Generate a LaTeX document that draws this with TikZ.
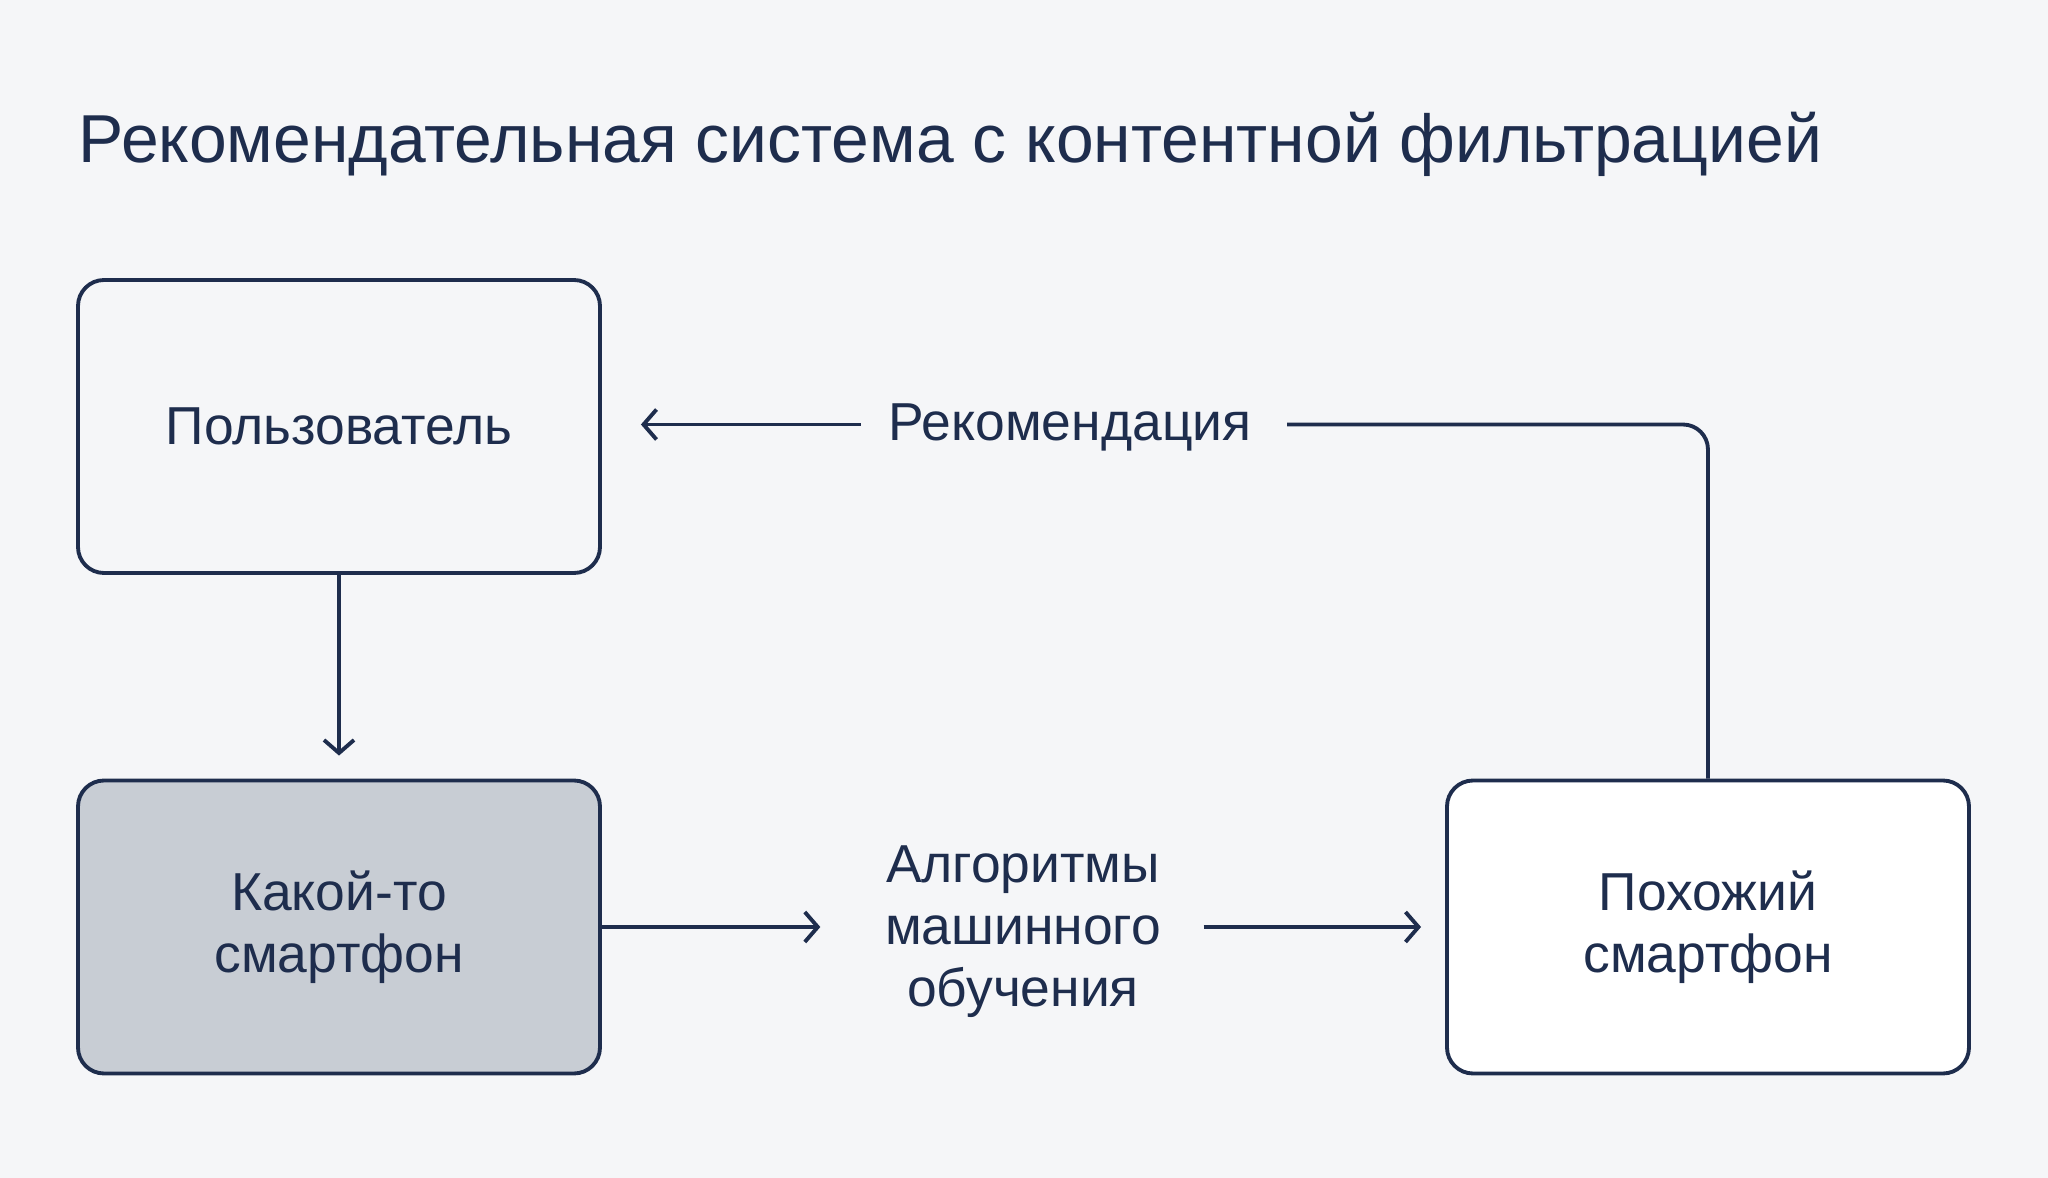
\documentclass[tikz,border=0pt]{standalone}
\usepackage{fontspec}
\setmainfont{Liberation Sans}
\usetikzlibrary{arrows.meta}
\definecolor{navy}{HTML}{1E2D4D}
\definecolor{paper}{HTML}{F5F6F8}
\definecolor{boxgray}{HTML}{C8CDD4}

\begin{document}
\begin{tikzpicture}[
    box/.style={draw=navy, line width=1.1pt, rounded corners=0.26cm, minimum width=5.22cm, minimum height=2.93cm, align=center, text=navy, font=\fontsize{15.2}{17.6}\selectfont},
    lbl/.style={inner sep=0pt, align=center, text=navy, font=\fontsize{15.2}{17.6}\selectfont},
    link/.style={draw=navy, line width=1.1pt},
    arr/.style={link, -{Straight Barb[length=0.13cm, width=0.3cm, line width=1.1pt]}}
  ]
      \fill[paper] (0,0) rectangle (20.48,-11.78);
      \useasboundingbox (0,0) rectangle (20.48,-11.78);
      \node[anchor=base west, inner sep=0pt, text=navy, font=\fontsize{19.3}{22}\selectfont] (title) at (0.78,-1.63) {Рекомендательная система с контентной фильтрацией};
      \node[box, fill=paper] (user) at (3.39,-4.265) {Пользователь};
      \node[box, fill=boxgray] (phone) at (3.39,-9.27) {Какой-то\\смартфон};
      \node[box, fill=white] (similar) at (17.08,-9.27) {Похожий\\смартфон};
      \node[lbl, text height=1.72ex, text depth=0pt] (rec) at (10.70,-4.245) {Рекомендация};
      \node[lbl] (ml) at (10.23,-9.32) {Алгоритмы\\машинного\\обучения};
      \draw[arr, shorten >=0.23cm] (user) -- (phone);
      \draw[arr, shorten >=0.64cm] (phone.east) -- (ml.west |- phone.east);
      \draw[arr, shorten <=0.42cm, shorten >=0.24cm] (ml.east |- similar.west) -- (similar.west);
      \draw[arr, shorten <=0.27cm, shorten >=0.39cm] (rec.west) -- (user.east |- rec.west);
      \draw[link, rounded corners=0.25cm, shorten <=0.35cm] (rec.east) -- (rec.east -| similar.north) -- (similar.north);
\end{tikzpicture}
\end{document}
